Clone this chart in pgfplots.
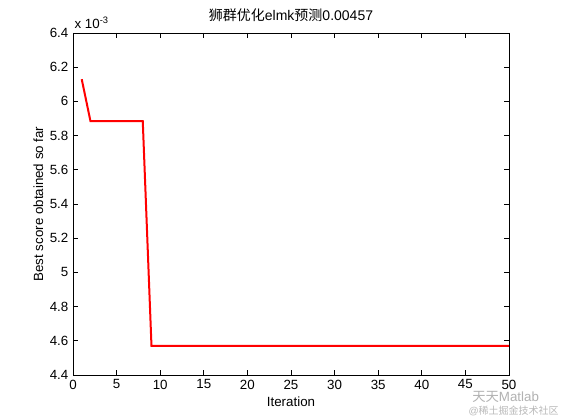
\documentclass[border=0pt]{standalone}
\usepackage{pgfplots}
\pgfplotsset{compat=1.18}
\usepackage{fontspec}
\setmainfont{Liberation Sans}
\newfontfamily\cjk{Noto Sans CJK SC}

\begin{document}
\begin{tikzpicture}[x=0.75pt,y=0.75pt]
\path[use as bounding box, fill=white] (0,0) rectangle (561,420);
\begin{axis}[
    at={(54.75pt,33.75pt)}, anchor=south west,
    scale only axis,
    width=327pt, height=256.5pt,
    xmin=0, xmax=50,
    ymin=4.4e-3, ymax=6.4e-3,
    xtick={0,5,...,50},
    ytick={4.4e-3,4.6e-3,4.8e-3,5.0e-3,5.2e-3,5.4e-3,5.6e-3,5.8e-3,6.0e-3,6.2e-3,6.4e-3},
    scaled y ticks=base 10:3,
    ytick scale label code/.code={x 10\textsuperscript{-3}},
    every y tick scale label/.style={at={(rel axis cs:0,1)}, anchor=south west, inner sep=1pt, yshift=2pt},
    /pgf/number format/assume math mode=true,
    tick align=inside,
    major tick length=4pt,
    axis line style={line width=0.6pt},
    tick style={line width=0.6pt, black},
    ticklabel style={font=\fontsize{10}{12}\selectfont},
    xlabel={Iteration},
    ylabel={Best score obtained so far},
    label style={font=\fontsize{10}{12}\selectfont},
    xlabel style={yshift=1pt},
    ylabel style={yshift=-2pt},
    title={{\cjk 狮群优化}elmk{\cjk 预测}0.00457},
    title style={font=\fontsize{10.5}{12}\selectfont, yshift=-1pt},
]
\addplot[red, line width=1.5pt] coordinates {
    (1, 6.13e-3)
    (2, 5.885e-3)
    (3, 5.885e-3)
    (4, 5.885e-3)
    (5, 5.885e-3)
    (6, 5.885e-3)
    (7, 5.885e-3)
    (8, 5.885e-3)
    (9, 4.57e-3)
    (10, 4.57e-3)
    (20, 4.57e-3)
    (30, 4.57e-3)
    (40, 4.57e-3)
    (50, 4.57e-3)
};
\end{axis}
\node[gray!60, anchor=west, font=\fontsize{10}{11}\selectfont, inner sep=0pt] at (472,23) {{\cjk 天天}Matlab};
\node[gray!55, anchor=east, font=\fontsize{7.5}{9}\selectfont, inner sep=0pt] at (559,9) {@{\cjk 稀土掘金技术社区}};
\end{tikzpicture}
\end{document}
